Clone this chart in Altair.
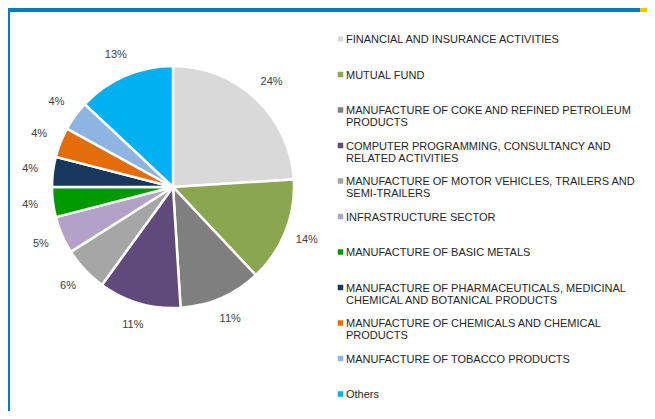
import altair as alt
import pandas as pd

categories = [
    "FINANCIAL AND INSURANCE ACTIVITIES",
    "MUTUAL FUND",
    "MANUFACTURE OF COKE AND REFINED PETROLEUM\nPRODUCTS",
    "COMPUTER PROGRAMMING, CONSULTANCY AND\nRELATED ACTIVITIES",
    "MANUFACTURE OF MOTOR VEHICLES, TRAILERS AND\nSEMI-TRAILERS",
    "INFRASTRUCTURE SECTOR",
    "MANUFACTURE OF BASIC METALS",
    "MANUFACTURE OF PHARMACEUTICALS, MEDICINAL\nCHEMICAL AND BOTANICAL PRODUCTS",
    "MANUFACTURE OF CHEMICALS AND CHEMICAL\nPRODUCTS",
    "MANUFACTURE OF TOBACCO PRODUCTS",
    "Others",
]
values = [24, 14, 11, 11, 6, 5, 4, 4, 4, 4, 13]
colors = ["#D9D9D9", "#8AA64E", "#7F7F7F", "#604A7B", "#A5A5A5", "#B3A2C7",
          "#009A00", "#17375E", "#E46C0A", "#8EB4E3", "#00B0F0"]

df = pd.DataFrame({
    "idx": list(range(len(categories))),
    "cat": categories,
    "value": values,
    "label": [f"{v}%" for v in values],
})

cx, cy = 165, 179
color_enc = alt.Color("cat:N", scale=alt.Scale(domain=categories, range=colors), legend=None)
theta_enc = alt.Theta("value:Q", stack=True)
order_enc = alt.Order("idx:Q")

base = alt.Chart(df)

pie = base.mark_arc(outerRadius=121, stroke="white", strokeWidth=2.5).encode(
    theta=theta_enc, color=color_enc, order=order_enc,
    x=alt.value(cx), y=alt.value(cy),
)

pie_labels = base.mark_text(radius=144, fontSize=11, font="Liberation Sans",
                            color="#404040", align="center", baseline="middle").encode(
    theta=theta_enc, text="label:N", order=order_enc,
    x=alt.value(cx), y=alt.value(cy),
)

yscale = alt.Scale(domain=[0, 10], range=[31, 386])

leg_sq = base.mark_square(size=30, opacity=1).encode(
    x=alt.value(332.5),
    y=alt.Y("idx:Q", scale=yscale, axis=None),
    color=color_enc,
)

leg_txt = base.mark_text(align="left", baseline="top", dy=-5, fontSize=11,
                         font="Liberation Sans", color="#262626",
                         lineBreak="\n", lineHeight=12).encode(
    x=alt.value(338),
    y=alt.Y("idx:Q", scale=yscale, axis=None),
    text="cat:N",
)

frame_df = pd.DataFrame({"k": [0]})
left_border = alt.Chart(frame_df).mark_rect(color="#007DC3").encode(
    x=alt.value(0), x2=alt.value(2), y=alt.value(0), y2=alt.value(403))
top_bar = alt.Chart(frame_df).mark_rect(color="#007DC3").encode(
    x=alt.value(0), x2=alt.value(632), y=alt.value(0), y2=alt.value(4))
top_yellow = alt.Chart(frame_df).mark_rect(color="#FFC000").encode(
    x=alt.value(632), x2=alt.value(639), y=alt.value(0), y2=alt.value(4))

chart = alt.layer(pie, pie_labels, leg_sq, leg_txt, left_border, top_bar, top_yellow).properties(
    width=639, height=403, padding=0, autosize=alt.AutoSizeParams(type="none"),
    background="white",
).configure_view(stroke=None)

chart.save("out.html", embed_options={"renderer": "svg", "actions": False})
